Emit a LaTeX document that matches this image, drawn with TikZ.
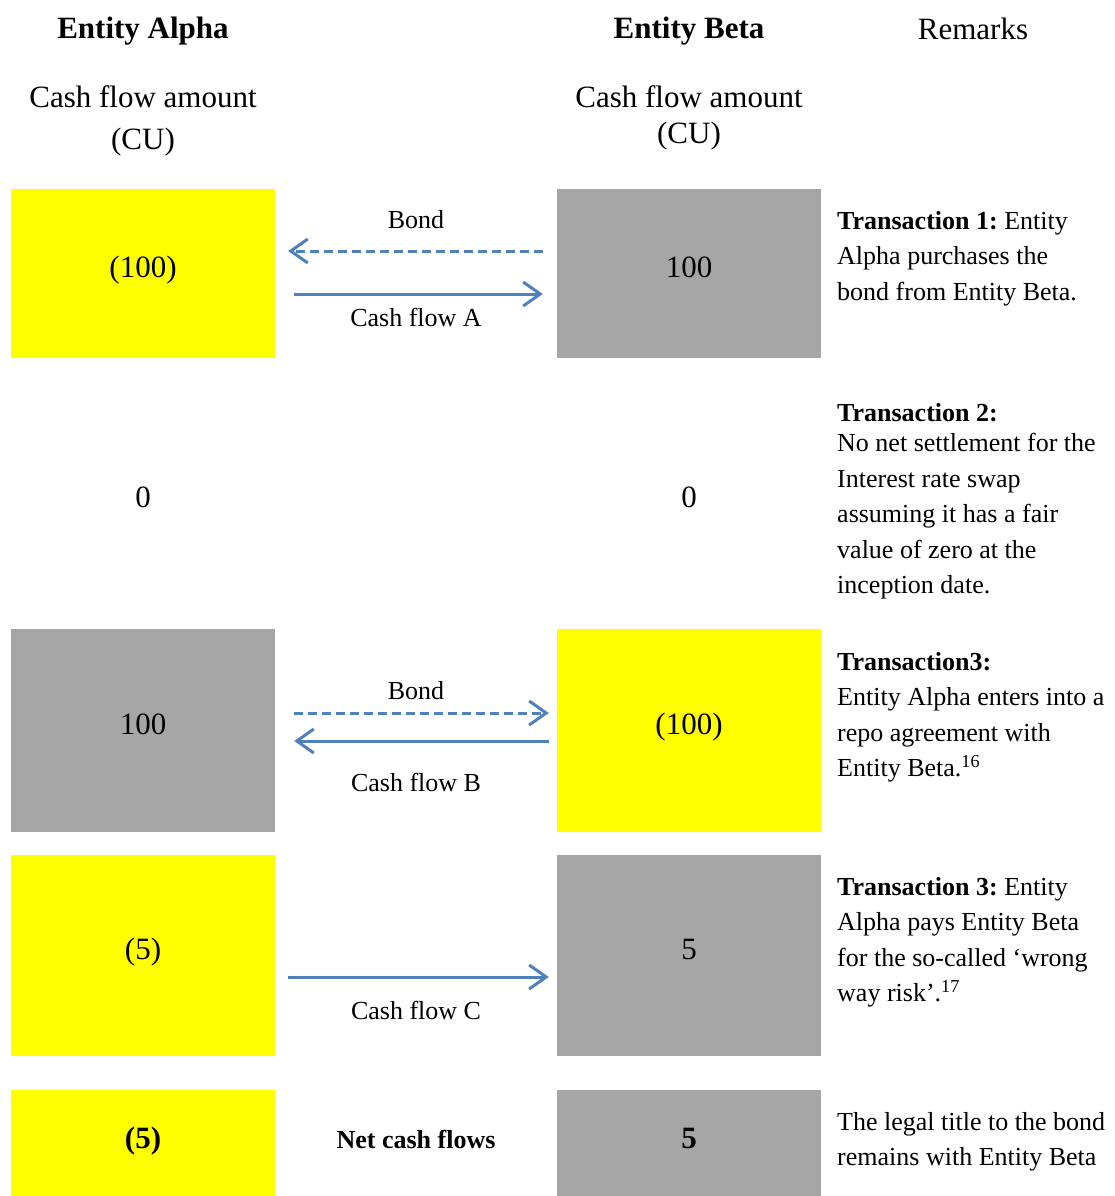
\documentclass[tikz,border=0pt]{standalone}
\usepackage{fontspec}
\setmainfont{Liberation Serif}
\usetikzlibrary{arrows.meta}
\definecolor{cfyellow}{HTML}{FFFF00}
\definecolor{cfgray}{HTML}{A6A6A6}
\definecolor{cfblue}{HTML}{4F81BD}

\begin{document}
\begin{tikzpicture}[x=1pt,y=-1pt,
    big/.style={font=\fontsize{31}{36}\selectfont},
    small/.style={font=\fontsize{26}{35.5}\selectfont},
    cell/.style={big, minimum width=264pt, inner sep=0pt, text height=21pt, text depth=14pt},
    pay/.style={cell, fill=cfyellow},
    get/.style={cell, fill=cfgray},
    flow/.style={draw=cfblue, line width=3pt, -{Straight Barb[length=17pt,width=24pt]}},
    bondflow/.style={flow, dash pattern=on 9pt off 5pt},
    remark/.style={small, anchor=north west, align=left, inner sep=0pt}]
    \useasboundingbox (0,0) rectangle (1114,1196);
    % column heads
    \node[big] (hA) at (143,31) {\textbf{Entity Alpha}};
    \node[big] (hB) at (689,31) {\textbf{Entity Beta}};
    \node[big] (hR) at (973,29) {Remarks};
    \node[big, align=center] (uA) at (143,121) {Cash flow amount\\[6pt](CU)};
    \node[big, align=center] (uB) at (689,118) {Cash flow amount\\(CU)};
    % transaction 1
    \node[pay, minimum height=169pt] (a1) at (143,273.5) {(100)};
    \node[get, minimum height=169pt] (b1) at (689,273.5) {100};
    \draw[bondflow, shorten <=14pt, shorten >=13pt] ([yshift=22.5pt]b1.west) -- ([yshift=22.5pt]a1.east);
    \draw[flow, shorten <=19pt, shorten >=14pt] ([yshift=-20.5pt]a1.east) -- ([yshift=-20.5pt]b1.west);
    \node[small] (l1) at (416,220) {Bond};
    \node[small] (l2) at (416,317) {Cash flow A};
    \node[remark] (r1) at (837,211) {\textbf{Transaction 1:}~Entity\\Alpha purchases the\\bond from Entity Beta.};
    % transaction 2
    \node[big] (a2) at (143,497) {0};
    \node[big] (b2) at (689,497) {0};
    \node[remark] (r2) at (837,403) {\textbf{Transaction 2:}\\[-5pt]No net settlement for the\\Interest rate swap\\assuming it has a fair\\value of zero at the\\inception date.};
    % transaction 3
    \node[get, minimum height=203pt] (a3) at (143,730.5) {100};
    \node[pay, minimum height=203pt] (b3) at (689,730.5) {(100)};
    \draw[bondflow, shorten <=19pt, shorten >=8pt] ([yshift=17.5pt]a3.east) -- ([yshift=17.5pt]b3.west);
    \draw[flow, shorten <=8pt, shorten >=19pt] ([yshift=-10.5pt]b3.west) -- ([yshift=-10.5pt]a3.east);
    \node[small] (l3) at (416,691) {Bond};
    \node[small] (l4) at (416,782) {Cash flow B};
    \node[remark] (r3) at (837,652) {\textbf{Transaction3:}\\Entity Alpha enters into a\\repo agreement with\\Entity Beta.\textsuperscript{16}};
    % wrong way risk
    \node[pay, minimum height=201pt] (a4) at (143,955.5) {(5)};
    \node[get, minimum height=201pt] (b4) at (689,955.5) {5};
    \draw[flow, shorten <=13pt, shorten >=8pt] ([yshift=-21.5pt]a4.east) -- ([yshift=-21.5pt]b4.west);
    \node[small] (l5) at (416,1010) {Cash flow C};
    \node[remark] (r4) at (837,877) {\textbf{Transaction 3:}~Entity\\Alpha pays Entity Beta\\for the so-called `wrong\\way risk'.\textsuperscript{17}};
    % net
    \node[pay, minimum height=106pt, text depth=11pt] (a5) at (143,1143) {\textbf{(5)}};
    \node[get, minimum height=106pt, text depth=11pt] (b5) at (689,1143) {\textbf{5}};
    \node[small] (net) at (416,1139) {\textbf{Net cash flows}};
    \node[remark] (r5) at (837,1112) {The legal title to the bond\\remains with Entity Beta};
\end{tikzpicture}
\end{document}
